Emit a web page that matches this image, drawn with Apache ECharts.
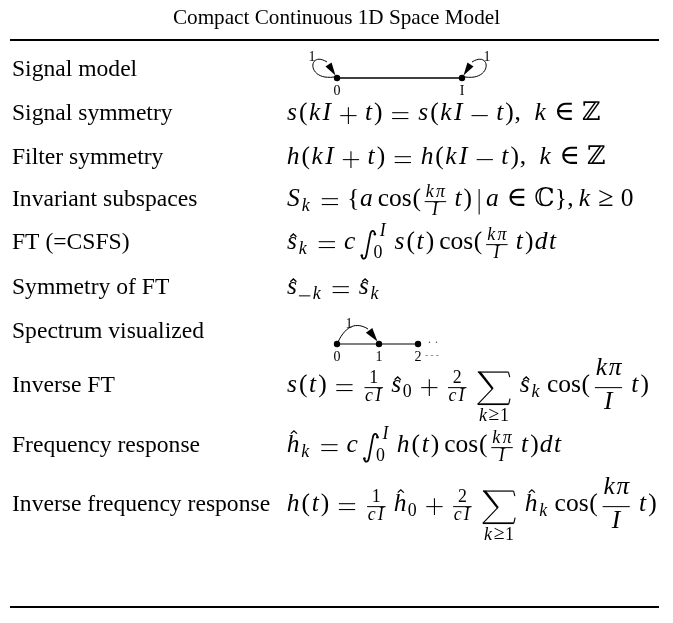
<!DOCTYPE html>
<html><head><meta charset="utf-8">
<script src="https://cdn.jsdelivr.net/npm/echarts@6.0.0/dist/echarts.min.js"></script>
<style>html,body{margin:0;padding:0;background:#fff;}#chart{width:673px;height:623px;}</style>
</head><body><div id="chart"></div>
<script>
// ================= DATA =================
const titleText = 'Compact Continuous 1D Space Model';
const rowLabels = ['Signal model','Signal symmetry','Filter symmetry','Invariant subspaces','FT (=CSFS)',
  'Symmetry of FT','Spectrum visualized','Inverse FT','Frequency response','Inverse frequency response'];
const signalNodeLabels = ['0','I'];
const signalLoopLabels = ['1','1'];
const spectrumNodeLabels = ['0','1','2'];
const spectrumEdgeLabels = ['1'];
const formulas = [
  {graph:'signal'},
  ['s','(','k','I','+','t',')','=','s','(','k','I','−','t',')',',','\\ ','k','∈','ℤ'],
  ['h','(','k','I','+','t',')','=','h','(','k','I','−','t',')',',','\\ ','k','∈','ℤ'],
  [{sub:[['\\S'],['k']]},'=','{','a','\\cos','(',{frac:[['k','π'],['I']]},'t',')','|','a','∈','ℂ','}',',','k','≥','0'],
  [{sub:[[{hat:'s'}],['k']]},'=','c',{int:[['0'],['I']]},'s','(','t',')','\\cos','(',{frac:[['k','π'],['I']]},'t',')','d','t'],
  [{sub:[[{hat:'s'}],['−','k']]},'=',{sub:[[{hat:'s'}],['k']]}],
  {graph:'spectrum'},
  ['s','(','t',')','=',{frac:[['1'],['c','I']]},{sub:[[{hat:'s'}],['0']]},'+',{frac:[['2'],['c','I']]},{sum:['k','≥','1']},{sub:[[{hat:'s'}],['k']]},'\\cos','(',{frac:[['k','π'],['I']],disp:true},'t',')'],
  [{sub:[[{hat:'h'}],['k']]},'=','c',{int:[['0'],['I']]},'h','(','t',')','\\cos','(',{frac:[['k','π'],['I']]},'t',')','d','t'],
  ['h','(','t',')','=',{frac:[['1'],['c','I']]},{sub:[[{hat:'h'}],['0']]},'+',{frac:[['2'],['c','I']]},{sum:['k','≥','1']},{sub:[[{hat:'h'}],['k']]},'\\cos','(',{frac:[['k','π'],['I']],disp:true},'t',')']
];

// ================= LAYOUT =================
const LABEL_X = 12, FORM_X = 286;
const ROW_BASE = [78,122,166,208,251,296,340,394,454,513];
const RULE_Y = [40,607], RULE_X = [10,659];
const F = 25.5, LAB = 23.6, MID = 0.3375;
const FAM = '"Liberation Serif", "DejaVu Serif", "DejaVu Sans"';
const cv = document.createElement('canvas').getContext('2d');
function fnt(s, it){ return (it ? 'italic ' : '') + s.toFixed(2) + 'px ' + FAM; }
function mw(t, f){ cv.font = f; return cv.measureText(t).width; }
function txt(t, x, base, s, it, color, align){
  return {type:'text', x:x, y:base - MID*s, silent:true,
    style:{text:t, font:fnt(s,it), fill:color||'#000', textAlign:align||'left', textVerticalAlign:'middle', align:align||'left', verticalAlign:'middle'}};
}
function ctxt(t, cx, cy, s, color){
  return {type:'text', x:cx, y:cy, silent:true,
    style:{text:t, font:fnt(s,false), fill:color||'#000', textAlign:'center', textVerticalAlign:'middle', align:'center', verticalAlign:'middle'}};
}
function lineEl(x1,y1,x2,y2,w,color){
  return {type:'line', silent:true, shape:{x1,y1,x2,y2}, style:{stroke:color||'#000', lineWidth:w, fill:'none'}};
}
function dot(cx,cy,r){ return {type:'circle', silent:true, shape:{cx,cy,r}, style:{fill:'#000'}}; }
function arrowHead(fx,fy,tx,ty,len,hw){
  let dx=tx-fx, dy=ty-fy; const L=Math.hypot(dx,dy); dx/=L; dy/=L;
  const bx=tx-dx*len, by=ty-dy*len;
  return {type:'polygon', silent:true, shape:{points:[[tx,ty],[bx-dy*hw,by+dx*hw],[bx+dy*hw,by-dx*hw]]}, style:{fill:'#000'}};
}

const ITX = {a:.04,c:.01,h:.08,k:.08,s:.09,t:.09,d:.04,I:.11,'π':.04,S:.1};
const RMX = {'(':.056,')':.056,'{':.02,'}':.02};
function glyphBox(ch, s, it, cls){
  const f = fnt(s,it), g = mw(ch,f);
  let ex = (it ? (ITX[ch] != null ? ITX[ch] : .04) : (RMX[ch]||0)) * s;
  if(s < .8*F) ex += .07*s;
  const off = it ? ex*0.4 : ex*0.5;
  return {w:g+ex, a:.72*s, d:.22*s, cls, gw:g, r:(x,b)=>[txt(ch, x+off, b, s, it)]};
}
function wordBox(w0, s, cls){
  const g = mw(w0, fnt(s,false));
  return {w:g, a:.7*s, d:0, cls, r:(x,b)=>[txt(w0, x, b, s, false)]};
}
function opBox(ch, s, cls){
  const w = .778*s, lw = Math.max(1, .042*s);
  return {w, a:.6*s, d:.1*s, cls, r:(x,b)=>{
    const ax = b - .25*s, l = x+.07*s, rr = x+w-.07*s;
    if(ch==='=') return [lineEl(l,ax-.115*s,rr,ax-.115*s,lw), lineEl(l,ax+.115*s,rr,ax+.115*s,lw)];
    if(ch==='+') return [lineEl(l,ax,rr,ax,lw), lineEl(x+w/2,ax-.33*s,x+w/2,ax+.33*s,lw)];
    return [lineEl(l,ax,rr,ax,lw)];
  }};
}
const RELW = {'∈':.667,'≥':.6};
function relGlyph(ch, s){
  if(ch==='|'){
    const w=.5*s;
    return {w, a:.75*s, d:.25*s, cls:'ord', r:(x,b)=>[lineEl(x+w/2,b-.75*s,x+w/2,b+.25*s,Math.max(1,.04*s))]};
  }
  const gs = s*1.1, f=fnt(gs,false), g=mw(ch,f), w=Math.max(g, RELW[ch]*s);
  return {w, a:.7*s, d:.2*s, cls:'rel', r:(x,b)=>[txt(ch, x+(w-g)/2, b, gs, false)]};
}
const SPACE = {
  ord:{ord:0,op:1,bin:2,rel:3,open:0,close:0,punct:0,inner:-1},
  op:{ord:1,op:1,bin:0,rel:3,open:0,close:0,punct:0,inner:-1},
  bin:{ord:2,op:2,bin:0,rel:0,open:2,close:0,punct:0,inner:2},
  rel:{ord:3,op:3,bin:0,rel:0,open:3,close:0,punct:0,inner:3},
  open:{ord:0,op:0,bin:0,rel:0,open:0,close:0,punct:0,inner:0},
  close:{ord:0,op:1,bin:2,rel:3,open:0,close:0,punct:0,inner:-1},
  punct:{ord:-1,op:-1,bin:0,rel:-1,open:-1,close:-1,punct:-1,inner:-1},
  inner:{ord:-1,op:1,bin:2,rel:3,open:-1,close:0,punct:-1,inner:-1}
};
function spaceAmt(code, s, sc){
  if(code===1) return s*3/18;
  if(sc) return 0;
  if(code===-1) return s*3/18;
  if(code===2) return s*4/18;
  if(code===3) return s*5/18;
  return 0;
}
function atom(tok, s, sc){
  if(typeof tok === 'object'){
    if(tok.frac) return fracBox(tok, s, sc);
    if(tok.hat) return hatBox(tok.hat, s);
    if(tok.sub) return subBox(tok, s, sc);
    if(tok.int) return intBox(tok, s);
    if(tok.sum) return sumBox(tok, s);
  }
  if(tok==='\\ ') return {w:.333*s, a:0, d:0, cls:'space', r:()=>[]};
  if(tok==='\\cos') return wordBox('cos', s, 'op');
  if(tok==='\\S') return glyphBox('S', s, true, 'ord');
  if(tok==='+'||tok==='−') return opBox(tok, s, 'bin');
  if(tok==='=') return opBox(tok, s, 'rel');
  if(tok==='∈'||tok==='≥'||tok==='|') return relGlyph(tok, s);
  if(tok===',') return glyphBox(',', s, false, 'punct');
  if(tok==='('||tok==='{') return glyphBox(tok, s, false, 'open');
  if(tok===')'||tok==='}') return glyphBox(tok, s, false, 'close');
  if(/[0-9ℤℂ]/.test(tok)) return glyphBox(tok, s, false, 'ord');
  return glyphBox(tok, s, true, 'ord');
}
function hlist(tokens, s, sc){
  const boxes = tokens.map(t=>atom(t,s,sc));
  const real = boxes.filter(b=>b.cls!=='space');
  real.forEach((b,i)=>{
    if(b.cls==='bin'){
      const p = real[i-1], n = real[i+1];
      if(!p || ['bin','op','rel','open','punct'].includes(p.cls) || !n || ['rel','close','punct'].includes(n.cls)) b.cls='ord';
    }
  });
  let x=0, prev=null; const items=[];
  boxes.forEach(b=>{
    if(b.cls==='space'){ items.push([x,b]); x+=b.w; return; }
    if(prev) x += spaceAmt(SPACE[prev.cls][b.cls], s, sc);
    items.push([x,b]); x+=b.w; prev=b;
  });
  const a = Math.max(0,...boxes.map(b=>b.a)), d = Math.max(0,...boxes.map(b=>b.d));
  return {w:x, a, d, cls:'ord', r:(x0,base)=>items.flatMap(([dx,b])=>b.r(x0+dx,base))};
}
function fracBox(tok, s, sc){
  const disp = !!tok.disp;
  const cs = disp ? s : s*0.7;
  const num = hlist(tok.frac[0], cs, !disp||sc), den = hlist(tok.frac[1], cs, !disp||sc);
  const nd = (disp ? .16 : .12)*s, bw = Math.max(num.w, den.w), w = bw + 2*nd;
  const u = disp ? .66*s : .394*s, v = disp ? .66*s : .345*s;
  const th = Math.max(1, .04*s);
  return {w, a:u+num.a, d:v+den.d, cls:'inner', r:(x,b)=>{
    const xl = x+nd, ax = b-.25*s;
    return [...num.r(xl+(bw-num.w)/2, b-u), lineEl(xl,ax,xl+bw,ax,th), ...den.r(xl+(bw-den.w)/2, b+v)];
  }};
}
function hatBox(ch, s){
  const g = glyphBox(ch, s, true, 'ord');
  const tall = /[hkdlbI]/.test(ch);
  return {w:g.w, a:(tall?.95:.72)*s, d:g.d, cls:'ord', r:(x,b)=>{
    const cx = x + g.w/2 + (tall ? .02 : .05)*s, by = b - (tall ? .80 : .56)*s, hw = .12*s, hh = .11*s;
    return [...g.r(x,b), {type:'polyline', silent:true, shape:{points:[[cx-hw,by],[cx,by-hh],[cx+hw,by]]},
      style:{stroke:'#000', fill:'none', lineWidth:Math.max(1,.05*s)}}];
  }};
}
function subBox(tok, s, sc){
  const base = hlist(tok.sub[0], s, sc);
  const ss = sc ? s*.714 : s*.7;
  const sub = hlist(tok.sub[1], ss, true);
  const shift = .17*s;
  return {w:base.w+sub.w+.04*s, a:base.a, d:Math.max(base.d, shift+sub.d), cls:'ord',
    r:(x,b)=>[...base.r(x,b), ...sub.r(x+base.w-.02*s, b+shift)]};
}
function intBox(tok, s){
  const ss = .7*s;
  const lo = hlist(tok.int[0], ss, true), hi = hlist(tok.int[1], ss, true);
  const supX = .74*s, subX = .52*s, u = .54*s, v = .31*s;
  const w = Math.max(supX+hi.w, subX+lo.w) + .06*s;
  return {w, a:.85*s, d:.4*s, cls:'op', r:(x,b)=>{
    const X = q=>x+q*s, Y = q=>b-q*s;
    const p = 'M'+X(.08)+' '+Y(-.19)+' C'+X(.10)+' '+Y(-.35)+' '+X(.24)+' '+Y(-.34)+' '+X(.27)+' '+Y(-.12)+
      ' L'+X(.41)+' '+Y(.62)+' C'+X(.44)+' '+Y(.83)+' '+X(.57)+' '+Y(.84)+' '+X(.60)+' '+Y(.67);
    return [{type:'path', silent:true, shape:{pathData:p}, style:{stroke:'#000', fill:'none', lineWidth:.07*s, lineCap:'round'}},
      dot(X(.085),Y(-.18),.05*s), dot(X(.595),Y(.66),.05*s),
      ...hi.r(x+supX, b-u), ...lo.r(x+subX, b+v)];
  }};
}
function sumBox(tok, s){
  const under = hlist(tok.sum, s*.7, true);
  const gw = 1.6*s, top = .88, bot = .42;
  const w = Math.max(gw, under.w);
  return {w, a:top*s, d:(bot+.17)*s+under.a, cls:'op', r:(x,b)=>{
    const gx = x+(w-gw)/2+.12*s, X = u=>gx+u*s, Y = v=>b-v*s;
    const thin = Math.max(1,.04*s);
    const els = [
      lineEl(X(.04),Y(top-.02),X(1.24),Y(top-.02),thin*1.2),
      lineEl(X(1.24),Y(top-.02),X(1.29),Y(top-.22),thin*1.1),
      {type:'polygon', silent:true, shape:{points:[[X(.03),Y(top-.005)],[X(.16),Y(top-.005)],[X(.66),Y(.23)],[X(.59),Y(.18)]]}, style:{fill:'#000'}},
      lineEl(X(.62),Y(.21),X(.04),Y(-bot+.02),thin*1.1),
      lineEl(X(.03),Y(-bot+.02),X(1.25),Y(-bot+.02),thin*1.7),
      lineEl(X(1.25),Y(-bot+.02),X(1.30),Y(-bot+.24),thin*1.1)
    ];
    const ub = b + (bot+.17)*s + under.a;
    return els.concat(under.r(gx+.66*s-under.w/2, ub));
  }};
}

function signalGraph(x0, b){
  const els=[], ny=b, xs=[x0+51, x0+176], LS=14;
  els.push(lineEl(xs[0],ny,xs[1],ny,1.3));
  xs.forEach((nx,k)=>{
    const sg = k===0 ? -1 : 1;
    els.push({type:'bezierCurve', silent:true, shape:{x1:nx+sg*3, y1:ny-1, cpx1:nx+sg*31, cpy1:ny+3, cpx2:nx+sg*29, cpy2:ny-28, x2:nx+sg*10, y2:ny-16},
      style:{stroke:'#000', fill:'none', lineWidth:1}});
    els.push(arrowHead(nx+sg*12, ny-19, nx+sg*1.5, ny-2.5, 13, 3.6));
    els.push(dot(nx, ny, 3.2));
    els.push(ctxt(signalLoopLabels[k], nx+sg*25, ny-21, LS));
    els.push(ctxt(signalNodeLabels[k], nx, ny+13, LS));
  });
  return els;
}
function spectrumGraph(x0, b){
  const els=[], ny=b+4, xs=[x0+51, x0+93, x0+132], LS=14, gray='#555';
  for(let k=0;k<xs.length-1;k++) els.push(lineEl(xs[k],ny,xs[k+1],ny,1.5,gray));
  els.push({type:'bezierCurve', silent:true, shape:{x1:xs[0]+1, y1:ny-2, cpx1:xs[0]+9, cpy1:ny-19, cpx2:xs[1]-22, cpy2:ny-22, x2:xs[1]-11, y2:ny-15},
    style:{stroke:'#000', fill:'none', lineWidth:1}});
  els.push(arrowHead(xs[1]-12, ny-16.5, xs[1]-1.5, ny-2.5, 14, 4));
  els.push(ctxt(spectrumEdgeLabels[0], xs[0]+12, ny-20, LS));
  xs.forEach((nx,k)=>{
    els.push(dot(nx, ny, 3.2));
    els.push(ctxt(spectrumNodeLabels[k], nx, ny+13, LS));
  });
  const last = xs[xs.length-1];
  els.push(ctxt('· ·', last+15, ny-1, 12, gray));
  els.push(ctxt('- - -', last+14, ny+12, 9, gray));
  return els;
}

function renderRow(params, api){
  const i = api.value(0);
  const pL = api.coord([LABEL_X, ROW_BASE[i]]);
  const pF = api.coord([FORM_X, ROW_BASE[i]]);
  const children = [txt(rowLabels[i], pL[0], pL[1], LAB, false)];
  const f = formulas[i];
  if(f.graph==='signal') children.push(...signalGraph(pF[0], pF[1]));
  else if(f.graph==='spectrum') children.push(...spectrumGraph(pF[0], pF[1]));
  else children.push(...hlist(f, F, false).r(pF[0], pF[1]));
  return {type:'group', children};
}
function renderRule(params, api){
  const i = api.value(0);
  const a = api.coord([RULE_X[0], RULE_Y[i]]), b = api.coord([RULE_X[1], RULE_Y[i]]);
  return lineEl(a[0], a[1], b[0], b[1], 2);
}

const chart = echarts.init(document.getElementById('chart'), null, {renderer:'canvas'});
chart.setOption({
  animation:false,
  backgroundColor:'#fff',
  title:{text:titleText, left:'center', top:6, padding:0,
    textStyle:{fontFamily:'Liberation Serif', fontSize:21.2, fontWeight:'normal', color:'#000', lineHeight:24}},
  grid:{left:0, right:0, top:0, bottom:0},
  xAxis:{type:'value', min:0, max:673, show:false},
  yAxis:{type:'value', min:0, max:623, inverse:true, show:false},
  series:[
    {type:'custom', silent:true, clip:false, data:RULE_Y.map((y,i)=>[i]), renderItem:renderRule},
    {type:'custom', silent:true, clip:false, data:rowLabels.map((l,i)=>[i]), renderItem:renderRow}
  ]
});
</script>
</body></html>
